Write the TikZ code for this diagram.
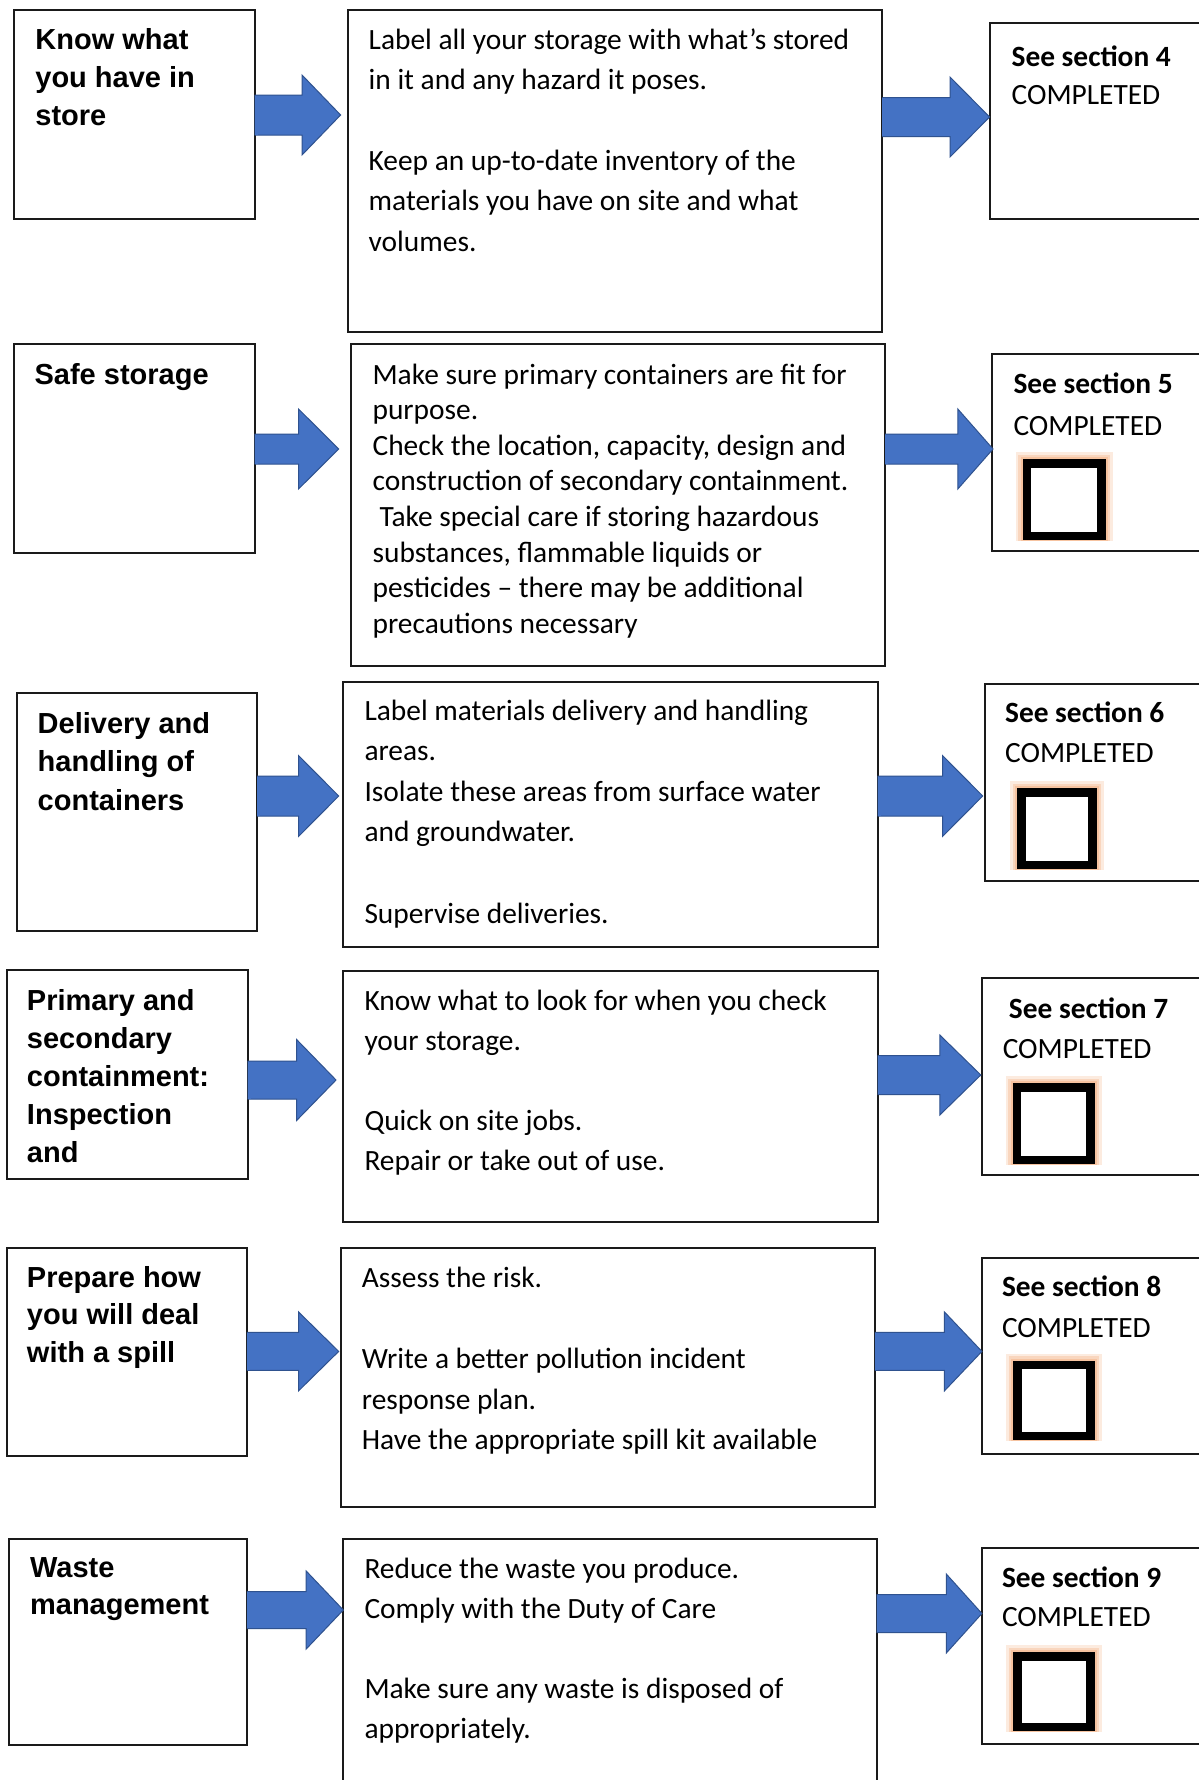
\documentclass[tikz,border=0pt]{standalone}
\usepackage{fontspec}
\setmainfont{Carlito}
\newfontfamily\titlefont{Liberation Sans}
\definecolor{arrowblue}{HTML}{4472C4}
\definecolor{arrowedge}{HTML}{2F528F}
\definecolor{glowc}{HTML}{F4B183}
\definecolor{boxline}{HTML}{1A1A1A}
\newcommand\ttlbox[2]{\parbox[t]{400pt}{\titlefont\bfseries\fontsize{29}{#1}\selectfont\lineskiplimit=-100pt #2}}
\newcommand\bodybox[2]{\parbox[t]{800pt}{\fontsize{29.4}{#1}\selectfont\lineskiplimit=-100pt #2}}
\newcommand\blockarr[6]{% x0, tip x, head x, center y, shaft half, head half
  \draw[barrow] (#1,#4-#5) -- (#3,#4-#5) -- (#3,#4-#6) -- (#2,#4) -- (#3,#4+#6) -- (#3,#4+#5) -- (#1,#4+#5);
  \fill[arrowblue] (#1,#4-#5+0.5) rectangle (#1+3,#4+#5-0.5);}
\newcommand\chkbox[4]{% outer black square x0 y0 x1 y1
  \fill[glowc, opacity=0.25] (#1-7,#2-7) rectangle (#3+7,#4+1);
  \fill[glowc, opacity=0.35] (#1-4.5,#2-4.5) rectangle (#3+4.5,#4+1);
  \fill[glowc, opacity=0.5] (#1-2,#2-2) rectangle (#3+2,#4+1);
  \draw[black, line width=8.5pt, fill=white] (#1+4.25,#2+4.25) rectangle (#3-4.25,#4-4.25);}
\tikzset{
  box/.style={draw=boxline, line width=2pt, fill=white, inner sep=0pt, outer sep=0pt, anchor=north west},
  ttl/.style={anchor=base west, inner sep=0pt},
  txt/.style={anchor=base west, inner sep=0pt, font=\fontsize{29.4}{34}\selectfont},
  barrow/.style={fill=arrowblue, draw=arrowedge, line width=1pt, line join=miter},
}
\begin{document}
\begin{tikzpicture}[x=1pt, y=-1pt]
\useasboundingbox (0,0) rectangle (1199,1780);
\clip (0,0) rectangle (1199,1780);
\fill[white] (0,0) rectangle (1199,1780);

% ---------- Row 1 ----------
\node[box, minimum width=240.5pt, minimum height=209pt] (L1) at (14,10) {};
\node[box, minimum width=534.4pt, minimum height=322pt] (M1) at (348,10) {};
\node[box, minimum width=240pt, minimum height=196pt] (R1) at (989.6,23) {};
\node[ttl] (tL1) at (35.2,49) {\ttlbox{38}{Know what\\you have in\\store}};
\node[ttl] (tM1) at (368.5,49.5) {\bodybox{40.3}{Label all your storage with what’s stored\\in it and any hazard it poses.\\\mbox{}\\Keep an up-to-date inventory of the\\materials you have on site and what\\volumes.}};
\node[txt] (tR1a) at (1011.4,66) {\bfseries See section 4};
\node[txt] (tR1b) at (1011.4,104) {COMPLETED};
\blockarr{254.5}{340.6}{302}{115}{20}{40}
\blockarr{882.4}{989.6}{950}{117}{19.5}{40}

% ---------- Row 2 ----------
\node[box, minimum width=240.3pt, minimum height=209pt] (L2) at (14.2,344) {};
\node[box, minimum width=534pt, minimum height=322pt] (M2) at (351,344) {};
\node[box, minimum width=240pt, minimum height=197pt] (R2) at (992.3,354) {};
\node[ttl] (tL2) at (34.4,384) {\ttlbox{38}{Safe storage}};
\node[ttl] (tM2) at (372.4,384) {\bodybox{35.6}{Make sure primary containers are fit for\\purpose.\\Check the location, capacity, design and\\construction of secondary containment.\\\hspace*{7pt}Take special care if storing hazardous\\substances, flammable liquids or\\pesticides – there may be additional\\precautions necessary}};
\node[txt] (tR2a) at (1013.3,393) {\bfseries See section 5};
\node[txt] (tR2b) at (1013.3,435) {COMPLETED};
\chkbox{1022.9}{459}{1105.9}{540}
\blockarr{254.5}{338.7}{298.5}{449}{15}{40}
\blockarr{885}{993}{957.8}{449}{15}{40}

% ---------- Row 3 ----------
\node[box, minimum width=240.4pt, minimum height=238pt] (L3) at (16.8,693) {};
\node[box, minimum width=534.2pt, minimum height=265pt] (M3) at (343.3,682) {};
\node[box, minimum width=240pt, minimum height=197pt] (R3) at (984.6,684) {};
\node[ttl] (tL3) at (37.5,733) {\ttlbox{38.5}{Delivery and\\handling of\\containers}};
\node[ttl] (tM3) at (364.3,720) {\bodybox{40.6}{Label materials delivery and handling\\areas.\\Isolate these areas from surface water\\and groundwater.\\\mbox{}\\Supervise deliveries.}};
\node[txt] (tR3a) at (1004.9,722) {\bfseries See section 6};
\node[txt] (tR3b) at (1004.9,762) {COMPLETED};
\chkbox{1017.1}{788}{1096.7}{869}
\blockarr{257.2}{338.7}{298.5}{796}{20}{40.5}
\blockarr{877.5}{982.7}{942.5}{796}{20}{40.5}

% ---------- Row 4 ----------
\node[box, minimum width=241.1pt, minimum height=209pt] (L4) at (6.5,970) {};
\node[box, minimum width=534.2pt, minimum height=251pt] (M4) at (343.3,971) {};
\node[box, minimum width=240pt, minimum height=197pt] (R4) at (981.9,978) {};
\node[ttl] (tL4) at (26.8,1010) {\ttlbox{38}{Primary and\\secondary\\containment:\\Inspection\\and}};
\node[ttl] (tM4) at (364.3,1010) {\bodybox{40.2}{Know what to look for when you check\\your storage.\\\mbox{}\\Quick on site jobs.\\Repair or take out of use.}};
\node[txt] (tR4a) at (1008.7,1018) {\bfseries See section 7};
\node[txt] (tR4b) at (1002.6,1058) {COMPLETED};
\chkbox{1012.5}{1083}{1094.8}{1164}
\blockarr{247.6}{336}{296.6}{1080}{19}{40.5}
\blockarr{877.5}{980.8}{939.8}{1075}{19.5}{40}

% ---------- Row 5 ----------
\node[box, minimum width=240.3pt, minimum height=207.6pt] (L5) at (6.5,1248) {};
\node[box, minimum width=534.2pt, minimum height=258.7pt] (M5) at (340.6,1248) {};
\node[box, minimum width=240pt, minimum height=196.4pt] (R5) at (981.9,1258) {};
\node[ttl] (tL5) at (26.8,1287.3) {\ttlbox{37.6}{Prepare how\\you will deal\\with a spill}};
\node[ttl] (tM5) at (361.7,1287.3) {\bodybox{40.6}{Assess the risk.\\\mbox{}\\Write a better pollution incident\\response plan.\\Have the appropriate spill kit available}};
\node[txt] (tR5a) at (1001.8,1296.5) {\bfseries See section 8};
\node[txt] (tR5b) at (1001.8,1337) {COMPLETED};
\chkbox{1013.3}{1360.5}{1094.8}{1440}
\blockarr{246.8}{338.7}{298.5}{1351.4}{19}{39.5}
\blockarr{874.8}{981.9}{944.4}{1351.4}{19}{39.5}

% ---------- Row 6 ----------
\node[box, minimum width=238pt, minimum height=206.5pt] (L6) at (8.8,1538.5) {};
\node[box, minimum width=533.4pt, minimum height=300pt] (M6) at (343.3,1538.5) {};
\node[box, minimum width=240pt, minimum height=196.4pt] (R6) at (981.9,1547.6) {};
\node[ttl] (tL6) at (29.9,1577.5) {\ttlbox{36.5}{Waste\\management}};
\node[ttl] (tM6) at (364.3,1578.6) {\bodybox{40}{Reduce the waste you produce.\\Comply with the Duty of Care\\\mbox{}\\Make sure any waste is disposed of\\appropriately.}};
\node[txt] (tR6a) at (1001.8,1587.6) {\bfseries See section 9};
\node[txt] (tR6b) at (1001.8,1626.6) {COMPLETED};
\chkbox{1013.3}{1652}{1094.8}{1731}
\blockarr{246.8}{343.3}{306.2}{1610}{18.5}{39}
\blockarr{876.7}{981.9}{946.3}{1613.5}{19}{39.5}
\end{tikzpicture}
\end{document}
